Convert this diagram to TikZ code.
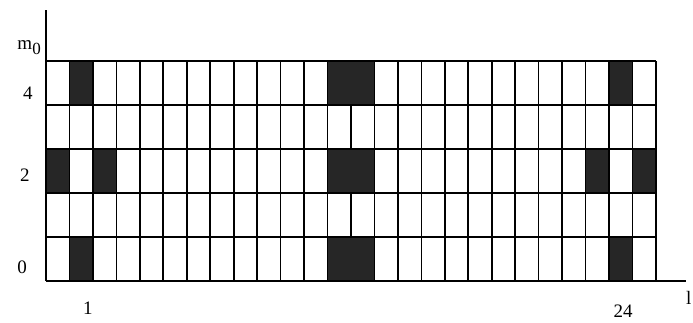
\documentclass[tikz,border=0pt]{standalone}
\usepackage{fontspec}
\setmainfont{Liberation Serif}
\usepackage{tikz}

\begin{document}
\begin{tikzpicture}[
  x=11.73pt, y=22pt,
  font=\fontsize{9.5}{11}\selectfont,
  cellline/.style={line width=0.85pt},
  axis/.style={line width=0.85pt},
  dark/.style={fill=black!85},
]
\useasboundingbox (-1.961,-0.955) rectangle (27.58,6.386);
% shaded cells (l, m0)
\foreach \l/\m in {1/4,24/4,0/2,2/2,23/2,25/2,1/0,24/0}{
  \fill[dark] (\l,\m) rectangle ++(1,1);
}
\foreach \m in {0,2,4}
  \fill[dark] (12,\m) rectangle ++(2,1);
% cells
\foreach \l in {1,...,12,14,15,...,26}
  \draw[cellline] (\l,0) -- (\l,5);
\draw[cellline] (13,1) -- (13,2) (13,3) -- (13,4);
\foreach \m in {1,...,5}
  \draw[cellline] (0,\m) -- (26,\m);
% axes
\draw[axis] (0,0) -- (0,6.16);
\draw[axis] (0,0) -- (27.28,0);
% labels
\node (mzero) at (-0.72,5.3) {m\raisebox{-0.6ex}{\fontsize{8.5}{10}\selectfont 0}};
\node (mfour) at (-0.77,4.27) {4};
\node (mtwo) at (-0.9,2.41) {2};
\node (mnull) at (-1.02,0.30) {0};
\node (lone) at (1.79,-0.61) {1};
\node (ltwentyfour) at (24.6,-0.68) {24};
\node (lname) at (27.4,-0.39) {l};
\end{tikzpicture}
\end{document}
